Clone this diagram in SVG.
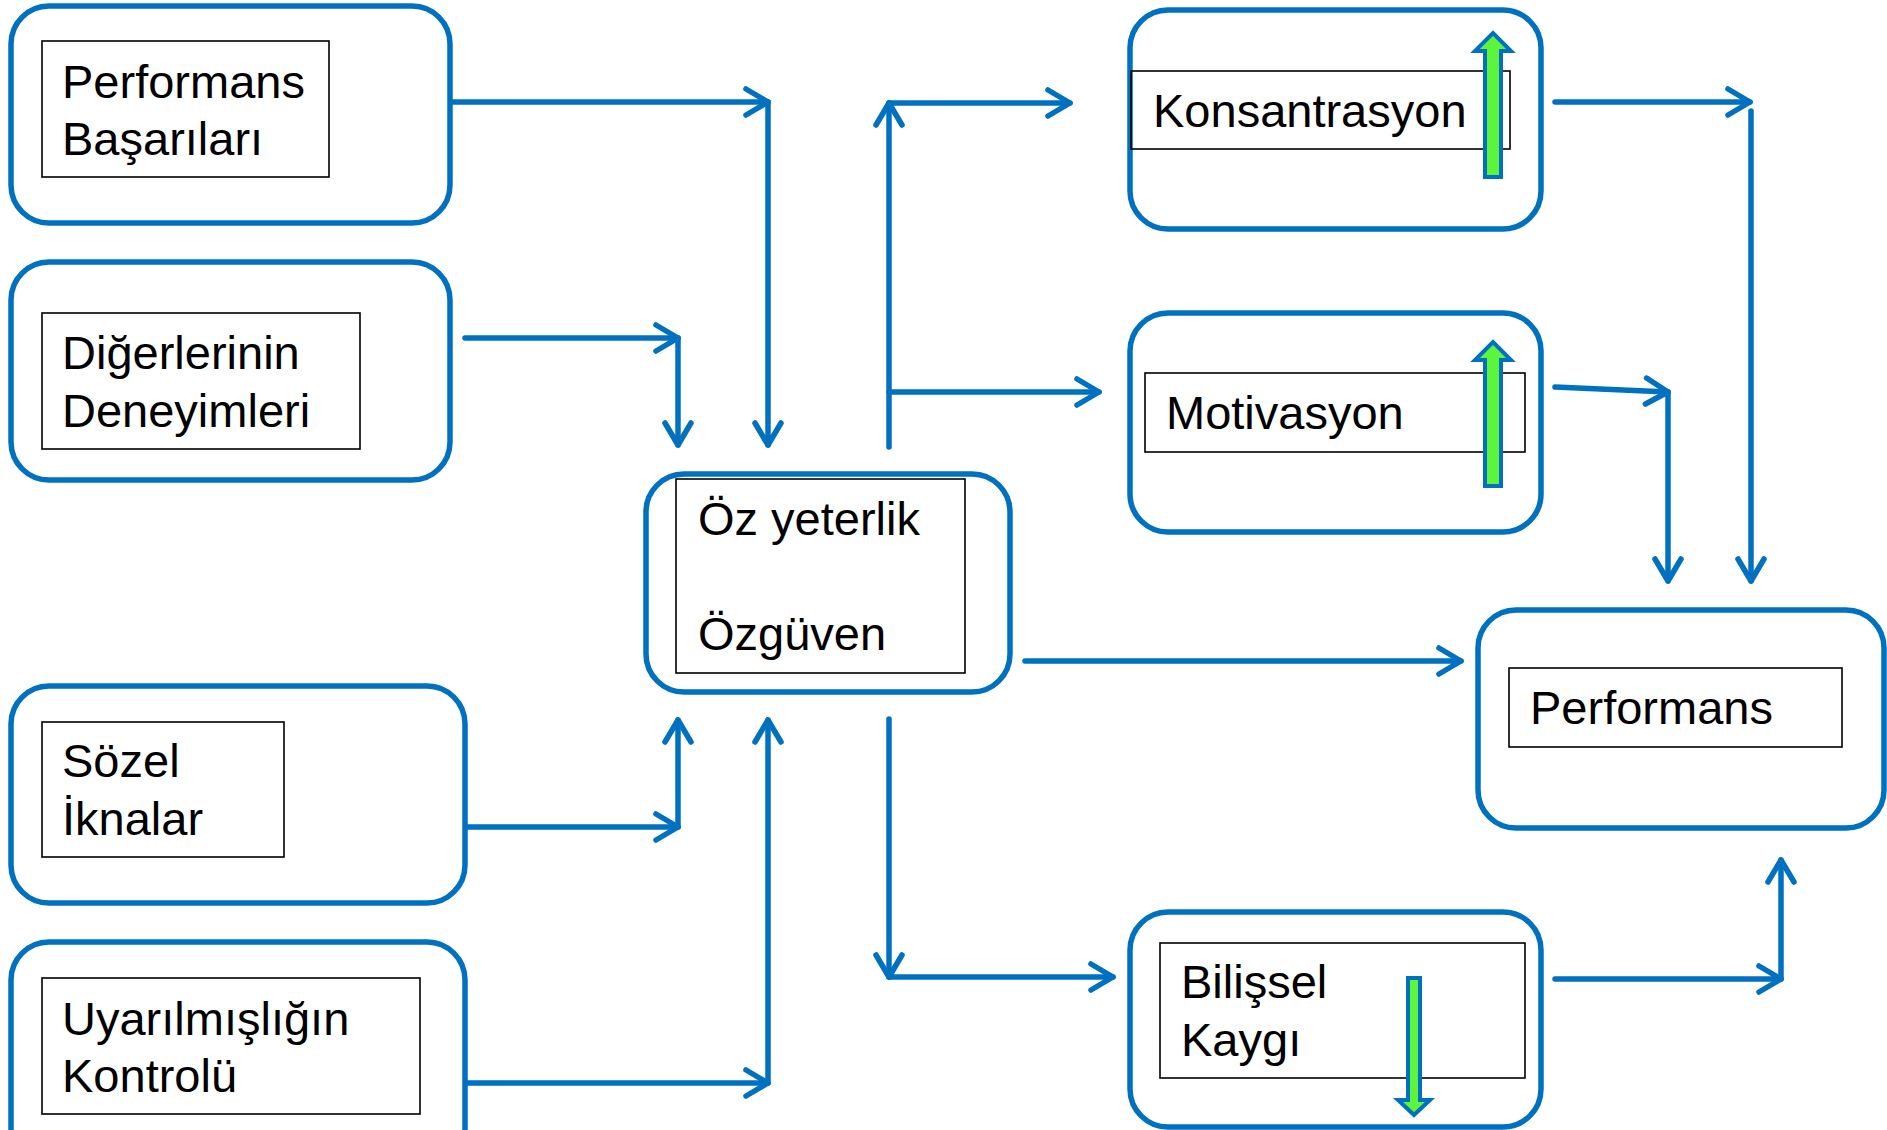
<svg xmlns="http://www.w3.org/2000/svg" width="1887" height="1130" viewBox="0 0 1887 1130">
<style>
.box{fill:#fff;stroke:#0070C0;stroke-width:5.5}
.inner{fill:none;stroke:#000;stroke-width:1.6}
.t{font-family:"Liberation Sans",Arial,sans-serif;font-size:47px;fill:#000}
.c{fill:none;stroke:#0070C0;stroke-width:5.5;stroke-linecap:round;marker-end:url(#ah)}
.g{fill:#5CF43C;stroke:#0070C0;stroke-width:4;stroke-linejoin:miter}
</style>
<defs>
<marker id="ah" markerUnits="userSpaceOnUse" viewBox="-30 -20 40 40" markerWidth="40" markerHeight="40" refX="0" refY="0" orient="auto" overflow="visible">
<path d="M-22,-13 L0,0 L-22,13" fill="none" stroke="#0070C0" stroke-width="5.5" stroke-linecap="round" stroke-linejoin="round"/>
</marker>
</defs>
<rect width="1887" height="1130" fill="#fff"/>
<g id="connectors">
<path class="c" d="M450,102 L768,102"/>
<path class="c" d="M768,102 L768,445"/>
<path class="c" d="M465,338 L678,338"/>
<path class="c" d="M678,338 L678,445"/>
<path class="c" d="M465,827 L678,827"/>
<path class="c" d="M678,827 L678,720"/>
<path class="c" d="M465,1083 L768,1083"/>
<path class="c" d="M768,1083 L768,720"/>
<path class="c" d="M889,447 L889,103"/>
<path class="c" d="M889,103 L1070,103"/>
<path class="c" d="M889,392 L1099,392"/>
<path class="c" d="M889,719 L889,977"/>
<path class="c" d="M889,977 L1113,977"/>
<path class="c" d="M1025,661 L1461,661"/>
<path class="c" d="M1555,102 L1750,102"/>
<path class="c" d="M1751,111 L1751,581"/>
<path class="c" d="M1555,387 L1668,392"/>
<path class="c" d="M1668,392 L1668,581"/>
<path class="c" d="M1555,979 L1781,979"/>
<path class="c" d="M1781,979 L1781,860"/>
</g>
<g id="performans-basarilari">
<rect class="box" x="11" y="6" width="439" height="217" rx="38"/>
<rect class="inner" x="42" y="41" width="287" height="136"/>
<text class="t" x="62" y="98">Performans</text>
<text class="t" x="62" y="155">Başarıları</text>
</g>
<g id="digerlerinin-deneyimleri">
<rect class="box" x="11" y="262" width="439" height="218" rx="38"/>
<rect class="inner" x="42" y="313" width="318" height="136"/>
<text class="t" x="62" y="369">Diğerlerinin</text>
<text class="t" x="62" y="427">Deneyimleri</text>
</g>
<g id="sozel-iknalar">
<rect class="box" x="11" y="686" width="454" height="217" rx="38"/>
<rect class="inner" x="42" y="722" width="242" height="135"/>
<text class="t" x="62" y="777">Sözel</text>
<text class="t" x="62" y="835">İknalar</text>
</g>
<g id="uyarilmisligin-kontrolu">
<rect class="box" x="11" y="942" width="454" height="230" rx="38"/>
<rect class="inner" x="42" y="978" width="378" height="136"/>
<text class="t" x="62" y="1035">Uyarılmışlığın</text>
<text class="t" x="62" y="1092">Kontrolü</text>
</g>
<g id="oz-yeterlik">
<rect class="box" x="646" y="474" width="364" height="218" rx="38"/>
<rect class="inner" x="676" y="479" width="289" height="194"/>
<text class="t" x="698" y="535">Öz yeterlik</text>
<text class="t" x="698" y="650">Özgüven</text>
</g>
<g id="konsantrasyon">
<rect class="box" x="1130" y="10" width="411" height="219" rx="38"/>
<rect class="inner" x="1131" y="71" width="379" height="78"/>
<text class="t" x="1153" y="127">Konsantrasyon</text>
<path class="g" d="M1485,177 L1485,51 L1475,51 L1493,33 L1511,51 L1501,51 L1501,177 Z"/>
</g>
<g id="motivasyon">
<rect class="box" x="1130" y="313" width="411" height="219" rx="38"/>
<rect class="inner" x="1145" y="373" width="380" height="79"/>
<text class="t" x="1166" y="429">Motivasyon</text>
<path class="g" d="M1485,486 L1485,360 L1475,360 L1493,342 L1511,360 L1501,360 L1501,486 Z"/>
</g>
<g id="performans">
<rect class="box" x="1478" y="610" width="406" height="218" rx="38"/>
<rect class="inner" x="1509" y="668" width="333" height="79"/>
<text class="t" x="1530" y="724">Performans</text>
</g>
<g id="bilissel-kaygi">
<rect class="box" x="1130" y="912" width="411" height="215" rx="38"/>
<rect class="inner" x="1160" y="943" width="365" height="135"/>
<text class="t" x="1181" y="998">Bilişsel</text>
<text class="t" x="1181" y="1056">Kaygı</text>
<path class="g" d="M1408,978 L1420,978 L1420,1100 L1430,1100 L1414,1115 L1398,1100 L1408,1100 Z"/>
</g>
</svg>
